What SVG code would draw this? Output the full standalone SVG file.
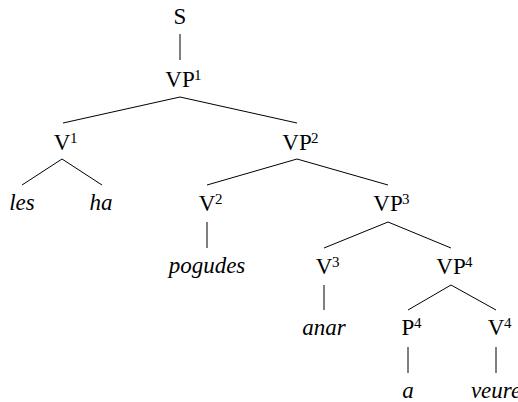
<svg xmlns="http://www.w3.org/2000/svg" width="518" height="402" viewBox="0 0 518 402">
<style>
.l{font-family:"Liberation Serif","Times New Roman",serif;font-size:23px;fill:#000;text-anchor:middle}
.w{font-style:italic}
.s{font-family:"Liberation Serif","Times New Roman",serif;font-size:15px;fill:#000}
#edges line{stroke:#000;stroke-width:1}
</style>
<rect width="518" height="402" fill="#fff"/>
<g id="edges">
<line x1="180" y1="34" x2="180" y2="60"/>
<line x1="180" y1="97" x2="63" y2="123"/>
<line x1="180" y1="97" x2="297" y2="123"/>
<line x1="62" y1="159" x2="22" y2="185"/>
<line x1="62" y1="159" x2="102" y2="185"/>
<line x1="297" y1="159" x2="207" y2="185"/>
<line x1="297" y1="159" x2="388" y2="185"/>
<line x1="207" y1="222" x2="207" y2="248"/>
<line x1="388" y1="222" x2="324" y2="248"/>
<line x1="388" y1="222" x2="451" y2="248"/>
<line x1="324" y1="285" x2="324" y2="310"/>
<line x1="451" y1="285" x2="408" y2="310"/>
<line x1="451" y1="285" x2="496" y2="310"/>
<line x1="408" y1="347" x2="408" y2="373"/>
<line x1="496" y1="347" x2="496" y2="373"/>
</g>
<g id="S"><text class="l" x="180" y="24">S</text></g>
<g id="VP1"><text class="l" x="180" y="87">VP</text><text class="s" x="194" y="80">1</text></g>
<g id="V1"><text class="l" x="62" y="150">V</text><text class="s" x="70" y="143">1</text></g>
<g id="les"><text class="l w" x="22" y="210">les</text></g>
<g id="ha"><text class="l w" x="101" y="210">ha</text></g>
<g id="VP2"><text class="l" x="297" y="150">VP</text><text class="s" x="311" y="143">2</text></g>
<g id="V2"><text class="l" x="207" y="211">V</text><text class="s" x="215" y="204">2</text></g>
<g id="pogudes"><text class="l w" x="207" y="273">pogudes</text></g>
<g id="VP3"><text class="l" x="388" y="211">VP</text><text class="s" x="402" y="204">3</text></g>
<g id="V3"><text class="l" x="324" y="274">V</text><text class="s" x="332" y="267">3</text></g>
<g id="anar"><text class="l w" x="324" y="335">anar</text></g>
<g id="VP4"><text class="l" x="451" y="274">VP</text><text class="s" x="465" y="267">4</text></g>
<g id="P4"><text class="l" x="408" y="335">P</text><text class="s" x="414" y="328">4</text></g>
<g id="a"><text class="l w" x="408" y="398">a</text></g>
<g id="V4"><text class="l" x="496" y="335">V</text><text class="s" x="504" y="328">4</text></g>
<g id="veure"><text class="l w" x="496" y="398">veure</text></g>
</svg>
